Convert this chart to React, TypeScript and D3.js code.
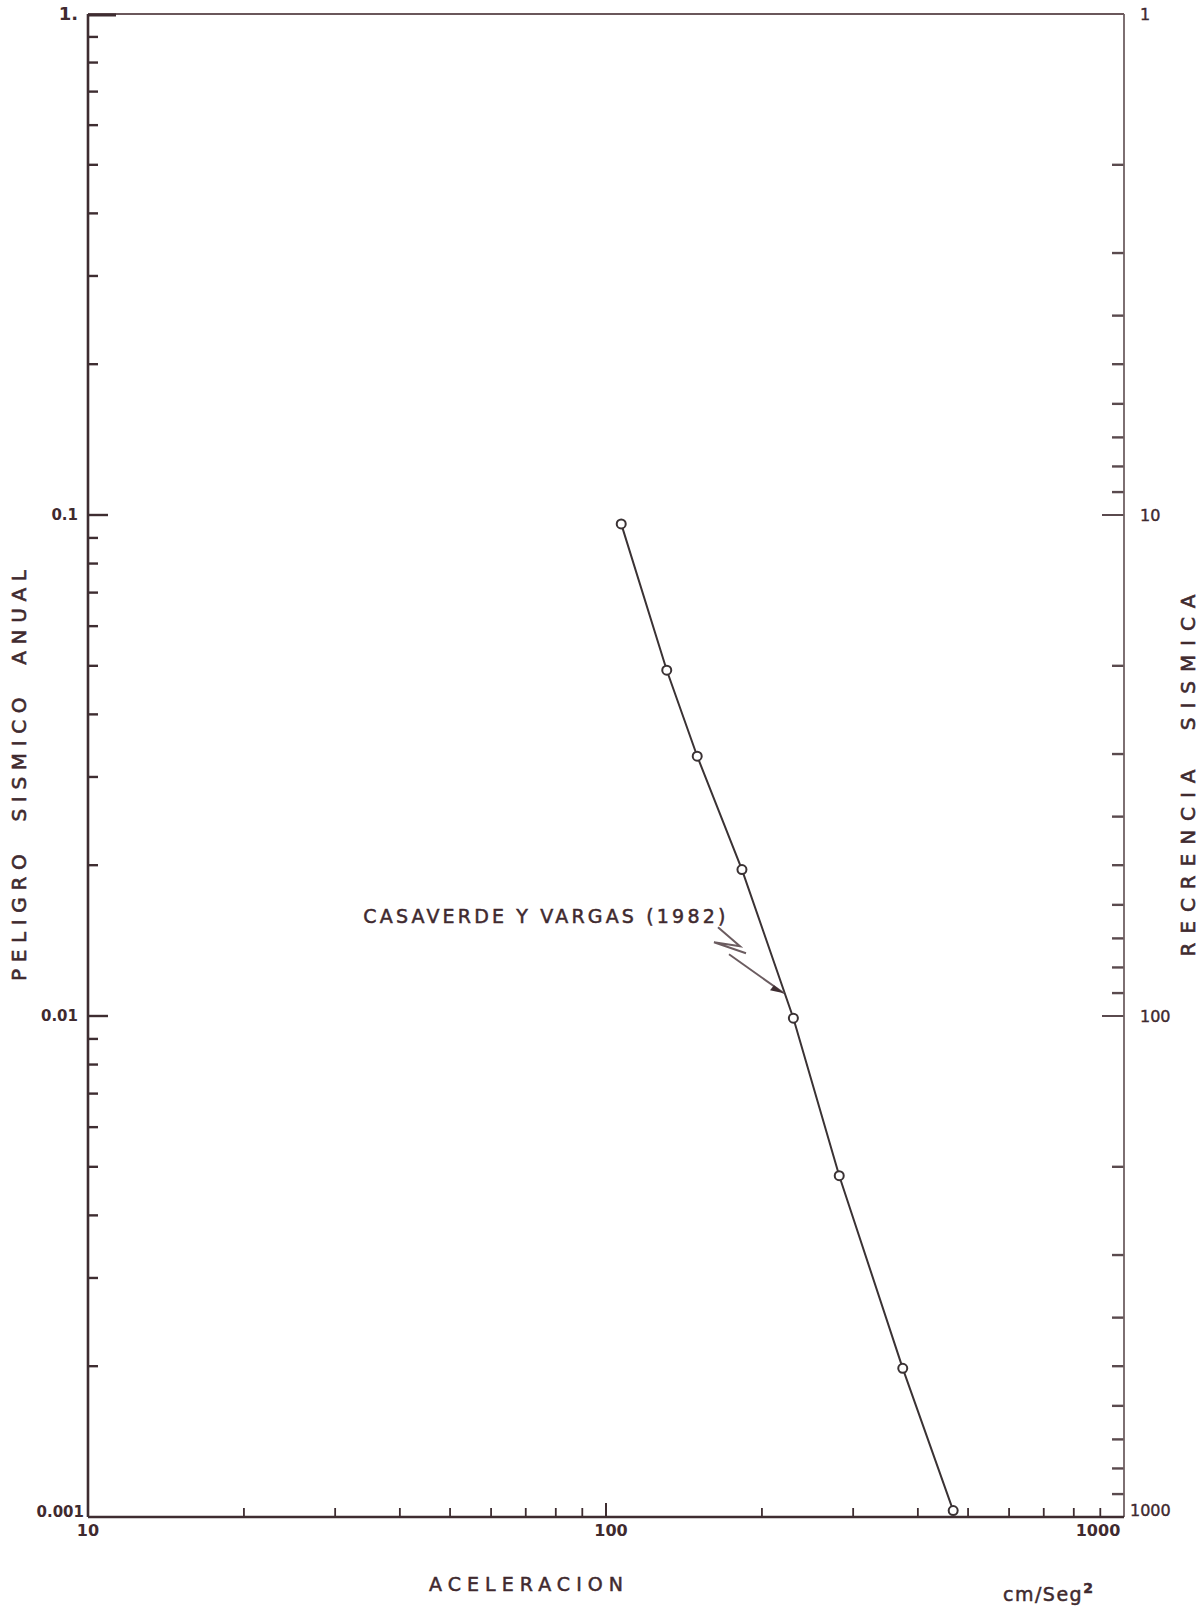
import { useEffect, useRef } from "react";
import * as d3 from "d3";

// aceleracion (cm/seg2) vs peligro sismico anual
const accel = [107, 131, 150, 183, 230, 282, 374, 468];
const hazard = [0.096, 0.049, 0.033, 0.0196, 0.0099, 0.0048, 0.00198, 0.00103];

const leftTicks = ["1.", "0.1", "0.01", "0.001"];
const leftTickValues = [1, 0.1, 0.01, 0.001];
const rightTicks = ["1", "10", "100", "1000"];
const rightTickValues = [1, 10, 100, 1000];
const bottomTicks = ["10", "100", "1000"];
const bottomTickValues = [10, 100, 1000];

const annotation = { text: "CASAVERDE Y VARGAS (1982)", x: 34, y: 0.0153, ax: 220.6, ay: 0.0111 };

export default function App() {
  const ref = useRef<SVGSVGElement | null>(null);

  useEffect(() => {
    const width = 1203;
    const height = 1611;
    const margin = { top: 14, right: 79, bottom: 94, left: 88 };
    const ink = "#3e2d31";
    const textInk = "#3f2a2f";
    const font = "'DejaVu Sans', sans-serif";

    const svg = d3.select(ref.current);
    svg.selectAll("*").remove();
    svg.attr("viewBox", `0 0 ${width} ${height}`);

    const x = d3.scaleLog().domain([10, 1000]).range([margin.left, width - margin.right]);
    const y = d3.scaleLog().domain([0.001, 1]).range([height - margin.bottom, margin.top]);
    // recurrencia = 1 / peligro
    const yr = d3.scaleLog().domain([1000, 1]).range([height - margin.bottom, margin.top]);

    const x0 = margin.left;
    const x1 = width - margin.right;
    const y0 = height - margin.bottom;
    const y1 = margin.top;

    // minor ticks
    const minors: number[] = [];
    [1, 10, 100].forEach((d) => d3.range(2, 10).forEach((k) => minors.push(d * k)));
    const pMinors: number[] = [];
    [0.001, 0.01, 0.1].forEach((d) => d3.range(2, 10).forEach((k) => pMinors.push(d * k)));

    const g = svg.append("g");

    g.append("g")
      .selectAll("line")
      .data(pMinors)
      .join("line")
      .attr("x1", x0)
      .attr("x2", x0 + 10)
      .attr("y1", (d) => y(d))
      .attr("y2", (d) => y(d))
      .attr("stroke", ink)
      .attr("stroke-width", 2.4);

    g.append("g")
      .selectAll("line")
      .data([0.1, 0.01])
      .join("line")
      .attr("x1", x0)
      .attr("x2", x0 + 20)
      .attr("y1", (d) => y(d))
      .attr("y2", (d) => y(d))
      .attr("stroke", ink)
      .attr("stroke-width", 2.4);

    g.append("g")
      .selectAll("line")
      .data(minors)
      .join("line")
      .attr("x1", x1)
      .attr("x2", x1 - 12)
      .attr("y1", (d) => yr(d))
      .attr("y2", (d) => yr(d))
      .attr("stroke", "#5a4a4e")
      .attr("stroke-width", 2.4);

    g.append("g")
      .selectAll("line")
      .data([10, 100])
      .join("line")
      .attr("x1", x1)
      .attr("x2", x1 - 22)
      .attr("y1", (d) => yr(d))
      .attr("y2", (d) => yr(d))
      .attr("stroke", "#5a4a4e")
      .attr("stroke-width", 2);

    g.append("g")
      .selectAll("line")
      .data(minors.map((d) => d * 10))
      .join("line")
      .attr("x1", (d) => x(d))
      .attr("x2", (d) => x(d))
      .attr("y1", y0)
      .attr("y2", y0 - 9)
      .attr("stroke", ink)
      .attr("stroke-width", 1.8);

    g.append("line")
      .attr("x1", x(100))
      .attr("x2", x(100))
      .attr("y1", y0)
      .attr("y2", y0 - 14)
      .attr("stroke", ink)
      .attr("stroke-width", 2);

    // frame
    g.append("line").attr("x1", x0).attr("x2", x1).attr("y1", y1).attr("y2", y1)
      .attr("stroke", "#6a575b").attr("stroke-width", 2);
    g.append("line").attr("x1", x0).attr("x2", x0 + 28).attr("y1", y1 + 1).attr("y2", y1 + 1)
      .attr("stroke", ink).attr("stroke-width", 3);
    g.append("line").attr("x1", x1).attr("x2", x1).attr("y1", y1).attr("y2", y0)
      .attr("stroke", "#6f6063").attr("stroke-width", 1.8);
    g.append("line").attr("x1", x0).attr("x2", x0).attr("y1", y1).attr("y2", y0)
      .attr("stroke", ink).attr("stroke-width", 2.6);
    g.append("line").attr("x1", x0).attr("x2", x1).attr("y1", y0).attr("y2", y0)
      .attr("stroke", ink).attr("stroke-width", 2.6);

    // tick labels
    g.append("g")
      .selectAll("text")
      .data(leftTicks)
      .join("text")
      .attr("x", (d, i) => (i === 3 ? x0 - 4 : x0 - 10))
      .attr("y", (d, i) => y(leftTickValues[i]) + (i === 3 ? -5 : 0))
      .attr("dy", "0.35em")
      .attr("text-anchor", "end")
      .attr("font-family", font)
      .attr("font-size", (d, i) => (i === 0 ? 18 : 15))
      .attr("font-weight", "bold")
      .attr("fill", textInk)
      .text((d) => d);

    g.append("g")
      .selectAll("text")
      .data(rightTicks)
      .join("text")
      .attr("x", (d, i) => (i === 3 ? x1 + 6 : x1 + 16))
      .attr("y", (d, i) => yr(rightTickValues[i]) + (i === 3 ? -7 : 0))
      .attr("dy", "0.35em")
      .attr("font-family", font)
      .attr("font-size", 16)
      .attr("fill", textInk)
      .attr("stroke", textInk)
      .attr("stroke-width", 0.4)
      .text((d) => d);

    g.append("g")
      .selectAll("text")
      .data(bottomTicks)
      .join("text")
      .attr("x", (d, i) => x(bottomTickValues[i]) + (i === 1 ? 5 : i === 2 ? -26 : 0))
      .attr("y", y0 + 13)
      .attr("dy", "0.35em")
      .attr("text-anchor", "middle")
      .attr("font-family", font)
      .attr("font-size", 16)
      .attr("font-weight", "bold")
      .attr("fill", textInk)
      .text((d) => d);

    // axis titles
    const midY = (y0 + y1) / 2 + 10;
    g.append("text")
      .attr("transform", `translate(26,${midY}) rotate(-90)`)
      .attr("text-anchor", "middle")
      .attr("font-family", font)
      .attr("font-size", 20)
      .attr("fill", textInk)
      .attr("stroke", textInk)
      .attr("stroke-width", 0.6)
      .attr("textLength", 411)
      .attr("lengthAdjust", "spacing")
      .attr("xml:space", "preserve")
      .text("PELIGRO  SISMICO  ANUAL");

    g.append("text")
      .attr("transform", `translate(1195,${midY}) rotate(-90)`)
      .attr("text-anchor", "middle")
      .attr("font-family", font)
      .attr("font-size", 20)
      .attr("fill", textInk)
      .attr("stroke", textInk)
      .attr("stroke-width", 0.6)
      .attr("textLength", 362)
      .attr("lengthAdjust", "spacing")
      .attr("xml:space", "preserve")
      .text("RECRENCIA  SISMICA");

    g.append("text")
      .attr("x", 526)
      .attr("y", 1591)
      .attr("text-anchor", "middle")
      .attr("font-family", font)
      .attr("font-size", 19)
      .attr("fill", textInk)
      .attr("stroke", textInk)
      .attr("stroke-width", 0.5)
      .attr("textLength", 194)
      .attr("lengthAdjust", "spacing")
      .text("ACELERACION");

    const unit = g.append("text")
      .attr("x", 1003)
      .attr("y", 1601)
      .attr("font-family", font)
      .attr("font-size", 19)
      .attr("fill", textInk)
      .attr("stroke", textInk)
      .attr("stroke-width", 0.5)
      .attr("letter-spacing", 1.5);
    unit.append("tspan").text("cm/Seg");
    unit.append("tspan").attr("dy", -8).attr("font-size", 14).attr("font-weight", "bold").text("2");

    // series
    const pts = accel.map((a, i) => [a, hazard[i]] as [number, number]);
    const line = d3.line<[number, number]>().x((d) => x(d[0])).y((d) => y(d[1]));
    g.append("path")
      .attr("d", line(pts))
      .attr("fill", "none")
      .attr("stroke", "#3a3234")
      .attr("stroke-width", 2);

    g.append("g")
      .selectAll("circle")
      .data(pts)
      .join("circle")
      .attr("cx", (d) => x(d[0]))
      .attr("cy", (d) => y(d[1]))
      .attr("r", 4.5)
      .attr("fill", "#fff")
      .attr("stroke", "#3a3234")
      .attr("stroke-width", 2);

    // annotation
    g.append("text")
      .attr("x", x(annotation.x))
      .attr("y", y(annotation.y))
      .attr("font-family", font)
      .attr("font-size", 19)
      .attr("fill", textInk)
      .attr("stroke", textInk)
      .attr("stroke-width", 0.5)
      .attr("textLength", 362)
      .attr("lengthAdjust", "spacing")
      .text(annotation.text);

    const ax = x(annotation.ax);
    const ay = y(annotation.ay);
    g.append("path")
      .attr("d", `M${ax - 55},${ay - 39} L${ax},${ay}`)
      .attr("stroke", "#6b5c60")
      .attr("stroke-width", 2)
      .attr("fill", "none");
    g.append("path")
      .attr("d", `M${ax},${ay} L${ax - 14},${ay - 3} L${ax - 10},${ay - 8} Z`)
      .attr("fill", ink);
    g.append("path")
      .attr("d", `M${ax - 66},${ay - 66} L${ax - 44},${ay - 47} L${ax - 70},${ay - 51} L${ax - 38},${ay - 40}`)
      .attr("stroke", "#6b5c60")
      .attr("stroke-width", 2)
      .attr("fill", "none");
  }, []);

  return (
    <div style={{ position: "absolute", left: 0, top: 0, background: "#fff" }}>
      <svg ref={ref} width={1203} height={1611} style={{ display: "block" }} />
    </div>
  );
}
